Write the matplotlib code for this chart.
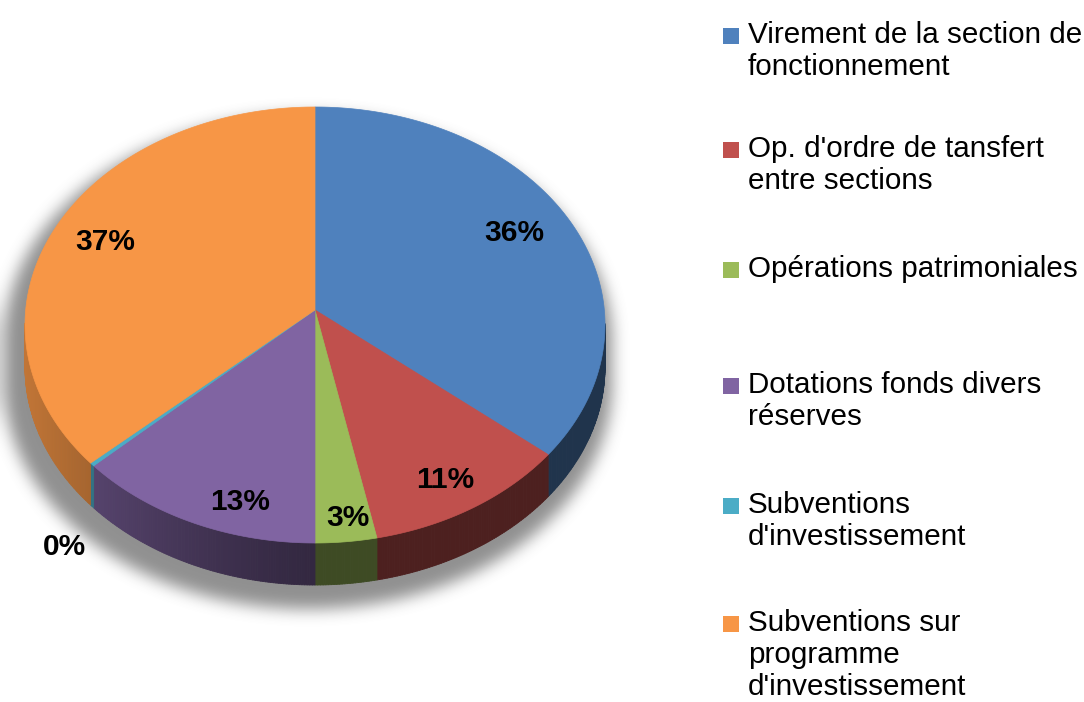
import numpy as np
import matplotlib.pyplot as plt
from matplotlib.patches import Polygon, Rectangle
from matplotlib.collections import PolyCollection
from matplotlib.colors import to_rgb

categories = ["Virement de la section de\nfonctionnement",
              "Op. d'ordre de tansfert\nentre sections",
              "Opérations patrimoniales",
              "Dotations fonds divers\nréserves",
              "Subventions\nd'investissement",
              "Subventions sur\nprogramme\nd'investissement"]
shares = [36.0, 10.8, 3.2, 13.0, 0.25, 36.75]
pct_labels = ["36%", "11%", "3%", "13%", "0%", "37%"]
colors = ["#4F81BD", "#C0504D", "#9BBB59", "#8064A2", "#4BACC6", "#F79646"]

W, H = 1084, 702
fig = plt.figure(figsize=(W / 100, H / 100), dpi=100)
ax = fig.add_axes([0, 0, 1, 1])
ax.set_xlim(0, W)
ax.set_ylim(H, 0)
ax.axis('off')

# pie geometry in pixels
cx, cy, rx, ry = 315, 325, 290, 218
depth = 42
persp = 0.069


def proj(u, v):
    d = 1 + persp * v
    return cx + rx * u * np.sqrt(1 - persp ** 2) / d, cy - ry * (v + persp) / d


# soft shadow under the pie
yy, xx = np.mgrid[0:H, 0:W] + 0.5
sx, sy, srx, sry = cx - 7, cy + 16, rx + 14, ry + 8
mask = (((xx - sx) / srx) ** 2 + ((yy - sy) / sry) ** 2 <= 1) | \
       (((xx - sx) / srx) ** 2 + ((yy - sy - depth) / sry) ** 2 <= 1) | \
       ((np.abs(xx - sx) <= srx) & (yy >= sy) & (yy <= sy + depth))
shadow = mask.astype(float)


def blur1d(a, r, axis):
    a = np.moveaxis(a, axis, -1)
    p = np.pad(a, [(0, 0), (r + 1, r)], mode='edge')
    c = np.cumsum(p, axis=-1)
    out = (c[:, 2 * r + 1:] - c[:, :-2 * r - 1]) / (2 * r + 1)
    return np.moveaxis(out, -1, axis)


for _ in range(3):
    shadow = blur1d(shadow, 7, 1)
    shadow = blur1d(shadow, 7, 0)
img = np.zeros((H, W, 4))
img[..., :3] = 0.42
img[..., 3] = 0.75 * shadow
ax.imshow(img, extent=(0, W, H, 0), origin='upper', zorder=0)

bounds = np.concatenate([[0], np.cumsum(shares)]) / sum(shares) * 2 * np.pi

# side walls (front half only), shaded from the left
quads, qcols = [], []
for i, col in enumerate(colors):
    base = np.array(to_rgb(col))
    t = np.linspace(bounds[i], bounds[i + 1], max(3, int((bounds[i + 1] - bounds[i]) * 120)))
    px, py = proj(np.sin(t), np.cos(t))
    for k in range(len(t) - 1):
        if (py[k] + py[k + 1]) / 2 < cy - 1:
            continue
        quads.append([(px[k], py[k]), (px[k + 1], py[k + 1]),
                      (px[k + 1], py[k + 1] + depth), (px[k], py[k] + depth)])
        f = 0.4 + 0.38 * np.clip((cx - (px[k] + px[k + 1]) / 2) / rx, 0, 1) ** 1.3
        qcols.append(np.clip(base * f, 0, 1))
ax.add_collection(PolyCollection(quads, facecolors=qcols, edgecolors=qcols,
                                 linewidths=0.6, zorder=2))

# top faces
for i, col in enumerate(colors):
    t = np.linspace(bounds[i], bounds[i + 1], max(3, int((bounds[i + 1] - bounds[i]) * 120)))
    px, py = proj(np.sin(t), np.cos(t))
    ox, oy = proj(0, 0)
    pts = np.column_stack([np.r_[ox, px], np.r_[oy, py]])
    ax.add_patch(Polygon(pts, closed=True, facecolor=col, edgecolor=col,
                         linewidth=0.5, zorder=3))

# percentage labels
lab_r = [0.8, 0.8, 0.8, 0.8, 1.2, 0.8]
nudge = [(-5, -5), (5, 14), (8, 25), (22, 24), (20, 50), (-3, 1)]
for i, txt in enumerate(pct_labels):
    m = (bounds[i] + bounds[i + 1]) / 2
    lx, ly = proj(lab_r[i] * np.sin(m), lab_r[i] * np.cos(m))
    ax.text(lx + nudge[i][0], ly + nudge[i][1], txt, ha='center', va='center',
            fontsize=21.5, fontweight='bold', family='Liberation Sans',
            color='black', zorder=5)

# legend
leg_base = [43, 157, 277, 393, 513, 631]
line_h = 32
for i, (name, col) in enumerate(zip(categories, colors)):
    ax.add_patch(Rectangle((723, leg_base[i] - 15), 16, 16, facecolor=col,
                           edgecolor='none', zorder=5))
    for j, line in enumerate(name.split('\n')):
        ax.text(748, leg_base[i] + j * line_h, line, ha='left', va='baseline',
                fontsize=21.3, family='Liberation Sans', color='black', zorder=5)

fig.savefig('out.png', dpi=100)
